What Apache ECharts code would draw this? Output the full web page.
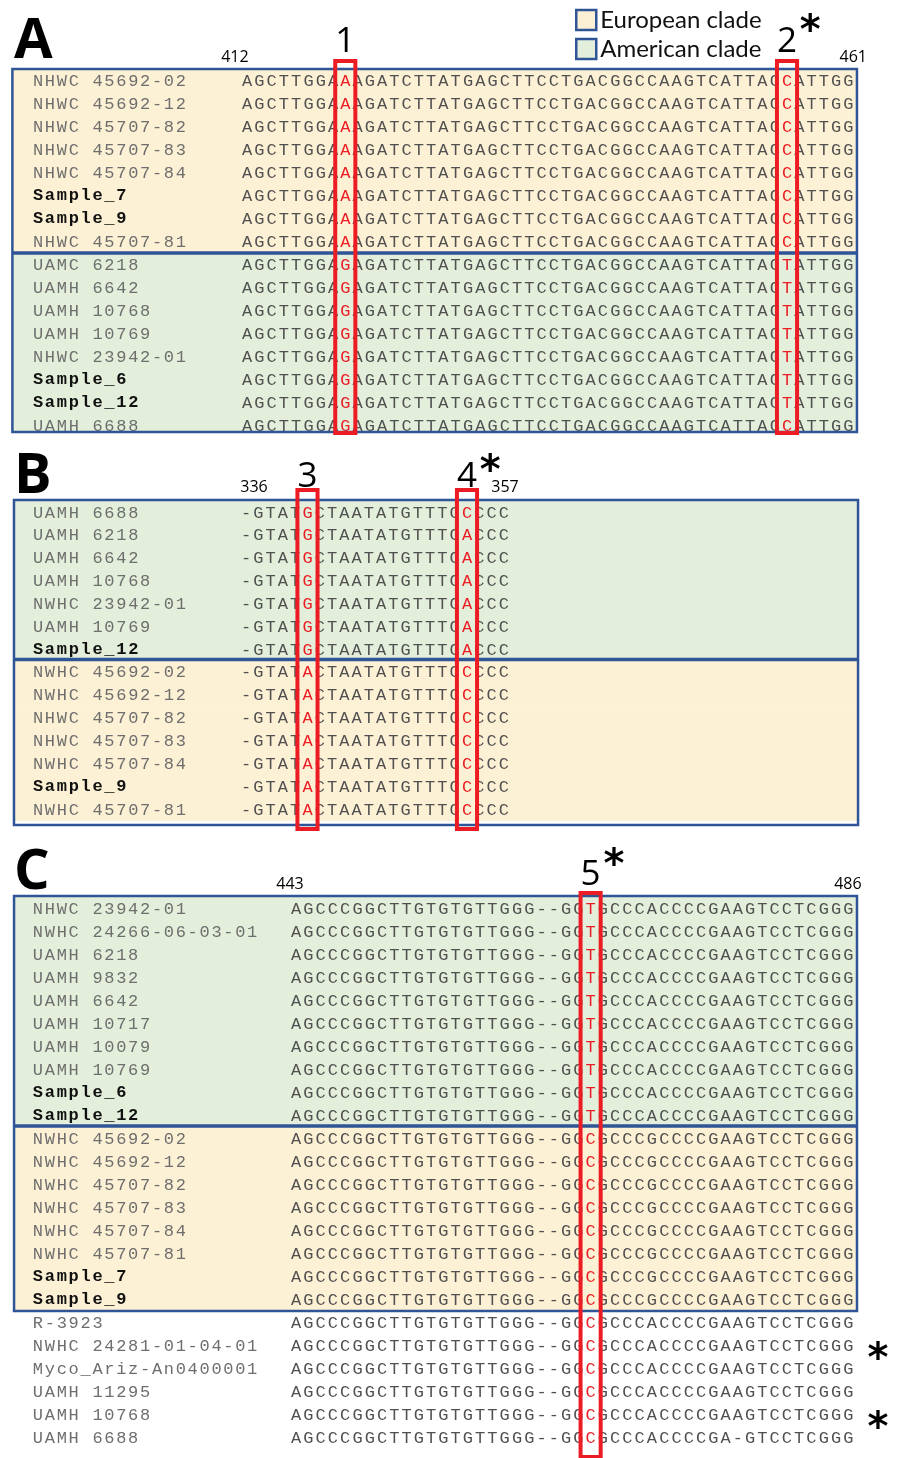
<!DOCTYPE html>
<html><head><meta charset="utf-8">
<script src="https://cdn.jsdelivr.net/npm/echarts@6/dist/echarts.min.js"></script>
<style>html,body{margin:0;padding:0;background:#fff}#c{width:900px;height:1458px}</style>
</head><body><div id="c"></div>
<script>
// ================= DATA =================
// Panel A (positions 412-461)
const aNames = ['NHWC 45692-02','NHWC 45692-12','NHWC 45707-82','NHWC 45707-83','NHWC 45707-84','Sample_7','Sample_9','NHWC 45707-81',
                'UAMC 6218','UAMH 6642','UAMH 10768','UAMH 10769','NHWC 23942-01','Sample_6','Sample_12','UAMH 6688'];
const aClades = ['E','E','E','E','E','E','E','E','N','N','N','N','N','N','N','N'];
const aSeqs = [
 'AGCTTGGAAAGATCTTATGAGCTTCCTGACGGCCAAGTCATTACCATTGG',
 'AGCTTGGAAAGATCTTATGAGCTTCCTGACGGCCAAGTCATTACCATTGG',
 'AGCTTGGAAAGATCTTATGAGCTTCCTGACGGCCAAGTCATTACCATTGG',
 'AGCTTGGAAAGATCTTATGAGCTTCCTGACGGCCAAGTCATTACCATTGG',
 'AGCTTGGAAAGATCTTATGAGCTTCCTGACGGCCAAGTCATTACCATTGG',
 'AGCTTGGAAAGATCTTATGAGCTTCCTGACGGCCAAGTCATTACCATTGG',
 'AGCTTGGAAAGATCTTATGAGCTTCCTGACGGCCAAGTCATTACCATTGG',
 'AGCTTGGAAAGATCTTATGAGCTTCCTGACGGCCAAGTCATTACCATTGG',
 'AGCTTGGAGAGATCTTATGAGCTTCCTGACGGCCAAGTCATTACTATTGG',
 'AGCTTGGAGAGATCTTATGAGCTTCCTGACGGCCAAGTCATTACTATTGG',
 'AGCTTGGAGAGATCTTATGAGCTTCCTGACGGCCAAGTCATTACTATTGG',
 'AGCTTGGAGAGATCTTATGAGCTTCCTGACGGCCAAGTCATTACTATTGG',
 'AGCTTGGAGAGATCTTATGAGCTTCCTGACGGCCAAGTCATTACTATTGG',
 'AGCTTGGAGAGATCTTATGAGCTTCCTGACGGCCAAGTCATTACTATTGG',
 'AGCTTGGAGAGATCTTATGAGCTTCCTGACGGCCAAGTCATTACTATTGG',
 'AGCTTGGAGAGATCTTATGAGCTTCCTGACGGCCAAGTCATTACCATTGG'
];
const aSites = [8, 44];
const aSiteLabels = ['1', '2'];
const aSiteStars = [false, true];
const aRange = ['412', '461'];

// Panel B (positions 336-357)
const bNames = ['UAMH 6688','UAMH 6218','UAMH 6642','UAMH 10768','NWHC 23942-01','UAMH 10769','Sample_12',
                'NWHC 45692-02','NWHC 45692-12','NHWC 45707-82','NHWC 45707-83','NWHC 45707-84','Sample_9','NWHC 45707-81'];
const bClades = ['N','N','N','N','N','N','N','E','E','E','E','E','E','E'];
const bSeqs = [
 '-GTATGCTAATATGTTTCCCCC',
 '-GTATGCTAATATGTTTCACCC',
 '-GTATGCTAATATGTTTCACCC',
 '-GTATGCTAATATGTTTCACCC',
 '-GTATGCTAATATGTTTCACCC',
 '-GTATGCTAATATGTTTCACCC',
 '-GTATGCTAATATGTTTCACCC',
 '-GTATACTAATATGTTTCCCCC',
 '-GTATACTAATATGTTTCCCCC',
 '-GTATACTAATATGTTTCCCCC',
 '-GTATACTAATATGTTTCCCCC',
 '-GTATACTAATATGTTTCCCCC',
 '-GTATACTAATATGTTTCCCCC',
 '-GTATACTAATATGTTTCCCCC'
];
const bSites = [5, 18];
const bSiteLabels = ['3', '4'];
const bSiteStars = [false, true];
const bRange = ['336', '357'];

// Panel C (positions 443-486)
const cNames = ['NHWC 23942-01','NWHC 24266-06-03-01','UAMH 6218','UAMH 9832','UAMH 6642','UAMH 10717','UAMH 10079','UAMH 10769','Sample_6','Sample_12',
                'NWHC 45692-02','NWHC 45692-12','NWHC 45707-82','NWHC 45707-83','NWHC 45707-84','NWHC 45707-81','Sample_7','Sample_9',
                'R-3923','NWHC 24281-01-04-01','Myco_Ariz-An0400001','UAMH 11295','UAMH 10768','UAMH 6688'];
const cClades = ['N','N','N','N','N','N','N','N','N','N','E','E','E','E','E','E','E','E','-','-','-','-','-','-'];
const cSeqs = [
 'AGCCCGGCTTGTGTGTTGGG--GGTGCCCACCCCGAAGTCCTCGGG',
 'AGCCCGGCTTGTGTGTTGGG--GGTGCCCACCCCGAAGTCCTCGGG',
 'AGCCCGGCTTGTGTGTTGGG--GGTGCCCACCCCGAAGTCCTCGGG',
 'AGCCCGGCTTGTGTGTTGGG--GGTGCCCACCCCGAAGTCCTCGGG',
 'AGCCCGGCTTGTGTGTTGGG--GGTGCCCACCCCGAAGTCCTCGGG',
 'AGCCCGGCTTGTGTGTTGGG--GGTGCCCACCCCGAAGTCCTCGGG',
 'AGCCCGGCTTGTGTGTTGGG--GGTGCCCACCCCGAAGTCCTCGGG',
 'AGCCCGGCTTGTGTGTTGGG--GGTGCCCACCCCGAAGTCCTCGGG',
 'AGCCCGGCTTGTGTGTTGGG--GGTGCCCACCCCGAAGTCCTCGGG',
 'AGCCCGGCTTGTGTGTTGGG--GGTGCCCACCCCGAAGTCCTCGGG',
 'AGCCCGGCTTGTGTGTTGGG--GGCGCCCGCCCCGAAGTCCTCGGG',
 'AGCCCGGCTTGTGTGTTGGG--GGCGCCCGCCCCGAAGTCCTCGGG',
 'AGCCCGGCTTGTGTGTTGGG--GGCGCCCGCCCCGAAGTCCTCGGG',
 'AGCCCGGCTTGTGTGTTGGG--GGCGCCCGCCCCGAAGTCCTCGGG',
 'AGCCCGGCTTGTGTGTTGGG--GGCGCCCGCCCCGAAGTCCTCGGG',
 'AGCCCGGCTTGTGTGTTGGG--GGCGCCCGCCCCGAAGTCCTCGGG',
 'AGCCCGGCTTGTGTGTTGGG--GGCGCCCGCCCCGAAGTCCTCGGG',
 'AGCCCGGCTTGTGTGTTGGG--GGCGCCCGCCCCGAAGTCCTCGGG',
 'AGCCCGGCTTGTGTGTTGGG--GGCGCCCACCCCGAAGTCCTCGGG',
 'AGCCCGGCTTGTGTGTTGGG--GGCGCCCACCCCGAAGTCCTCGGG',
 'AGCCCGGCTTGTGTGTTGGG--GGCGCCCACCCCGAAGTCCTCGGG',
 'AGCCCGGCTTGTGTGTTGGG--GGCGCCCACCCCGAAGTCCTCGGG',
 'AGCCCGGCTTGTGTGTTGGG--GGCGCCCACCCCGAAGTCCTCGGG',
 'AGCCCGGCTTGTGTGTTGGG--GGCGCCCACCCCGA-GTCCTCGGG'
];
const cSites = [24];
const cSiteLabels = ['5'];
const cSiteStars = [true];
const cRange = ['443', '486'];
const cRowFlags = [false,false,false,false,false,false,false,false,false,false,false,false,false,false,false,false,false,false,
                   false,true,false,false,true,false];

const cladeNames = { E: 'European clade', N: 'American clade' };

// ================= STYLE / LAYOUT =================
const COL_W = 12.27;
const EURO = '#FDF1D5', AMER = '#E3EFDB', BLUE = '#2F5597', RED = '#EC1C24';
const SEQ_COLOR = '#505050', NAME_COLOR = '#6e6e6e', BOLD_COLOR = '#111';
const MONO = '"Liberation Mono", monospace';
const SANS = '"Open Sans", "Noto Sans", sans-serif';

// per-panel layout (grid in px, decorations in axis units: columns / rows)
const panels = [
 { names: aNames, clades: aClades, seqs: aSeqs, sites: aSites, siteLabels: aSiteLabels, stars: aSiteStars, range: aRange, flags: null,
   seqLeft: 241, row0: 80, rowH: 23, nameCol: -17.04,
   box: [-19.13, 49.7, -0.48, 15.3], div: 7.52, red: [-0.83, 15.35],
   rangeRow: -1.0, rangeCols: [-1.0, 49.4], siteRow: -1.65, starRow: -2.05 },
 { names: bNames, clades: bClades, seqs: bSeqs, sites: bSites, siteLabels: bSiteLabels, stars: bSiteStars, range: bRange, flags: null,
   seqLeft: 240, row0: 512, rowH: 22.85, nameCol: -16.96,
   box: [-18.92, 49.87, -0.525, 13.7], div: 6.455, red: [-0.96, 13.87],
   rangeRow: -1.09, rangeCols: [0.64, 21.1], siteRow: -1.53, starRow: -1.72 },
 { names: cNames, clades: cClades, seqs: cSeqs, sites: cSites, siteLabels: cSiteLabels, stars: cSiteStars, range: cRange, flags: cRowFlags,
   seqLeft: 290, row0: 908, rowH: 23, nameCol: -21.04,
   box: [-22.99, 45.71, -0.52, 17.52], div: 9.48, red: [-0.65, 23.87],
   rangeRow: -1.04, rangeCols: [-0.5, 44.97], siteRow: -1.43, starRow: -1.8 }
];

const grids = [], xAxes = [], yAxes = [], series = [];

panels.forEach((P, pi) => {
  const nCols = P.seqs[0].length, nRows = P.seqs.length;
  grids.push({ left: P.seqLeft, top: P.row0 - P.rowH / 2, width: nCols * COL_W, height: nRows * P.rowH, containLabel: false });
  xAxes.push({ gridIndex: pi, type: 'value', min: -0.5, max: nCols - 0.5, show: false });
  yAxes.push({ gridIndex: pi, type: 'value', min: -0.5, max: nRows - 0.5, inverse: true, show: false });

  // --- background fills (one series per clade, named for the legend)
  ['E', 'N'].forEach(cl => {
    const rows = [];
    P.clades.forEach((c, r) => { if (c === cl) rows.push(r); });
    series.push({
      type: 'custom', name: cladeNames[cl], xAxisIndex: pi, yAxisIndex: pi, clip: false, silent: true, z: 1,
      itemStyle: { color: cl === 'E' ? EURO : AMER, borderColor: BLUE, borderWidth: 2 },
      data: rows.map(r => [r]),
      renderItem: (params, api) => {
        const r = api.value(0);
        const y0 = Math.max(r - 0.5, P.box[2]), y1 = Math.min(r + 0.5, P.box[3]);
        const p0 = api.coord([P.box[0], y0]), p1 = api.coord([P.box[1], y1]);
        return { type: 'rect', shape: { x: p0[0], y: p0[1], width: p1[0] - p0[0], height: p1[1] - p0[1] + 0.5 },
                 style: { fill: cl === 'E' ? EURO : AMER } };
      }
    });
  });

  // --- text (names + sequence characters)
  const items = [];
  P.names.forEach((nm, r) => {
    const bold = nm.indexOf('Sample') === 0;
    for (let i = 0; i < nm.length; i++) {
      if (nm[i] === ' ') continue;
      items.push({ c: P.nameCol + i * 0.97, r, t: nm[i], color: bold ? BOLD_COLOR : NAME_COLOR, w: bold ? 'bold' : 'normal' });
    }
  });
  P.seqs.forEach((s, r) => {
    for (let j = 0; j < s.length; j++) {
      items.push({ c: j, r, t: s[j], color: P.sites.indexOf(j) >= 0 ? RED : SEQ_COLOR, w: 'normal' });
    }
  });
  series.push({
    type: 'custom', xAxisIndex: pi, yAxisIndex: pi, clip: false, silent: true, z: 3,
    data: items.map(d => [d.c, d.r]),
    renderItem: (params, api) => {
      const d = items[params.dataIndex];
      const p = api.coord([api.value(0), api.value(1)]);
      return { type: 'text', x: p[0], y: p[1] + 1,
               style: { text: d.t, fill: d.color, fontFamily: MONO, fontSize: 17, fontWeight: d.w, align: 'center', verticalAlign: 'middle' } };
    }
  });

  // --- box outline + clade divider
  series.push({
    type: 'custom', xAxisIndex: pi, yAxisIndex: pi, clip: false, silent: true, z: 5,
    data: [[0]],
    renderItem: (params, api) => {
      const a = api.coord([P.box[0], P.box[2]]), b = api.coord([P.box[1], P.box[3]]);
      const d0 = api.coord([P.box[0], P.div]), d1 = api.coord([P.box[1], P.div]);
      return { type: 'group', children: [
        { type: 'rect', shape: { x: a[0], y: a[1], width: b[0] - a[0], height: b[1] - a[1] }, style: { fill: null, stroke: BLUE, lineWidth: 2.5 } },
        { type: 'line', shape: { x1: d0[0], y1: d0[1], x2: d1[0], y2: d1[1] }, style: { stroke: BLUE, lineWidth: 3.5 } }
      ]};
    }
  });

  // --- red site boxes
  series.push({
    type: 'custom', xAxisIndex: pi, yAxisIndex: pi, clip: false, silent: true, z: 6,
    data: P.sites.map(s => [s]),
    renderItem: (params, api) => {
      const s = api.value(0);
      const a = api.coord([s - 0.82, P.red[0]]), b = api.coord([s + 0.82, P.red[1]]);
      return { type: 'rect', shape: { x: a[0], y: a[1], width: b[0] - a[0], height: b[1] - a[1] }, style: { fill: null, stroke: RED, lineWidth: 4 } };
    }
  });

  // --- annotations: range numbers, site numbers, stars
  const ann = [];
  ann.push({ c: P.rangeCols[0], r: P.rangeRow, t: P.range[0], size: 16, w: 'normal' });
  ann.push({ c: P.rangeCols[1], r: P.rangeRow, t: P.range[1], size: 16, w: 'normal' });
  P.sites.forEach((s, k) => {
    ann.push({ c: s, r: P.siteRow, t: P.siteLabels[k], size: 35, w: 'normal' });
    if (P.stars[k]) ann.push({ c: s + 1.9, r: P.starRow, t: '*', size: 40, w: 'bold', star: true });
  });
  if (P.flags) P.flags.forEach((f, r) => { if (f) ann.push({ c: P.seqs[0].length + 1.42, r: r + 0.7, t: '*', size: 40, w: 'bold', star: true }); });
  series.push({
    type: 'custom', xAxisIndex: pi, yAxisIndex: pi, clip: false, silent: true, z: 7,
    data: ann.map(d => [d.c, d.r]),
    renderItem: (params, api) => {
      const d = ann[params.dataIndex];
      const p = api.coord([api.value(0), api.value(1)]);
      return { type: 'text', x: p[0], y: p[1],
               style: { text: d.t, fill: '#000', fontFamily: d.star ? '"DejaVu Sans", sans-serif' : SANS, fontSize: d.size, fontWeight: d.w,
                        align: 'center', verticalAlign: 'middle' } };
    }
  });
});

const chart = echarts.init(document.getElementById('c'), null, { renderer: 'canvas' });
chart.setOption({
  animation: false,
  backgroundColor: '#fff',
  title: [
    { text: 'A', left: 14, top: 14, padding: 0, textStyle: { fontSize: 56, fontWeight: 'bold', fontFamily: SANS, color: '#000' } },
    { text: 'B', left: 14, top: 449, padding: 0, textStyle: { fontSize: 56, fontWeight: 'bold', fontFamily: SANS, color: '#000' } },
    { text: 'C', left: 14, top: 845, padding: 0, textStyle: { fontSize: 56, fontWeight: 'bold', fontFamily: SANS, color: '#000' } }
  ],
  legend: {
    orient: 'vertical', left: 575, top: 8, padding: 0, itemWidth: 20, itemHeight: 20, itemGap: 5, icon: 'rect', selectedMode: false,
    textStyle: { fontSize: 24, fontFamily: '"Lato", sans-serif', color: '#111', padding: [0, 0, 0, -1] },
    data: [
      { name: 'European clade', itemStyle: { color: EURO, borderColor: BLUE, borderWidth: 2.5 } },
      { name: 'American clade', itemStyle: { color: AMER, borderColor: BLUE, borderWidth: 2.5 } }
    ]
  },
  grid: grids, xAxis: xAxes, yAxis: yAxes, series: series
});
</script>
</body></html>
